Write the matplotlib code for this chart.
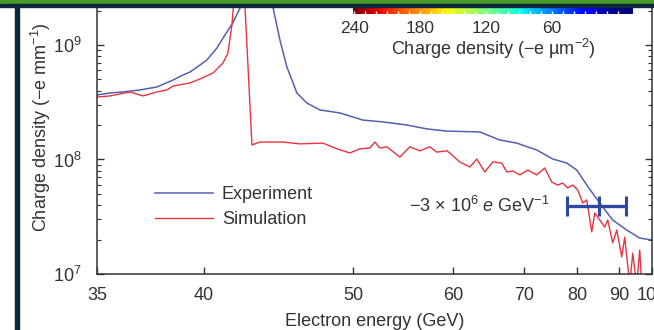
import numpy as np
import matplotlib
matplotlib.use("Agg")
import matplotlib.pyplot as plt
from matplotlib.patches import Rectangle
from matplotlib.ticker import NullLocator, FixedLocator

plt.rcParams['font.family'] = ['Liberation Sans', 'DejaVu Sans']
plt.rcParams['mathtext.fontset'] = 'custom'
plt.rcParams['mathtext.rm'] = 'Liberation Sans'
plt.rcParams['mathtext.it'] = 'Liberation Sans:italic'
plt.rcParams['font.size'] = 13

# Experiment (blue) - electron energy (GeV) vs charge density (-e/mm)
exp_energy = [35.0, 35.54, 36.1, 36.86, 37.64, 38.42, 38.92, 39.28, 39.8, 40.17,
              40.72, 41.06, 41.62, 42.04, 43.0, 44.08, 44.54, 45.01, 45.7, 46.41,
              47.36, 48.91, 50.83, 52.61, 54.94, 57.03, 59.29, 63.44, 66.26, 68.85,
              72.18, 75.08, 77.81, 79.89, 82.54, 85.12, 88.39, 92.21, 96.06, 100.0]
exp_charge = [3.66e8, 3.81e8, 3.89e8, 4.05e8, 4.30e8, 4.94e8, 5.47e8, 5.81e8, 6.68e8, 7.40e8,
              9.42e8, 1.15e9, 1.56e9, 2.10e9, 4.0e9, 2.15e9, 1.11e9, 6.43e8, 3.81e8, 3.11e8,
              2.71e8, 2.55e8, 2.21e8, 2.13e8, 2.00e8, 1.85e8, 1.77e8, 1.74e8, 1.48e8, 1.39e8,
              1.21e8, 1.01e8, 9.31e7, 8.09e7, 5.64e7, 4.17e7, 2.96e7, 2.42e7, 2.06e7, 1.98e7]

# Simulation (red)
sim_energy = [35.0, 35.54, 36.41, 36.99, 37.64, 38.12, 38.42, 39.28, 39.8, 40.5,
              41.06, 41.34, 41.57, 41.9, 42.33, 42.76, 43.25, 44.74, 45.91, 47.59,
              48.68, 49.73, 50.57, 51.44, 51.89, 52.34, 52.99, 54.24, 55.24, 56.28,
              57.36, 58.14, 59.29, 59.65, 60.86, 62.13, 63.04, 64.13, 65.24, 66.55,
              67.3, 68.22, 69.33, 70.64, 72.18, 73.59, 74.88, 76.03, 77.01, 78.01,
              79.04, 80.1, 81.19, 82.08, 83.22, 83.93, 85.12, 86.35, 87.1, 88.39,
              89.45, 90.81, 91.64, 93.07, 93.94, 95.13, 96.06, 96.67]
sim_charge = [3.51e8, 3.59e8, 3.89e8, 3.59e8, 3.89e8, 4.05e8, 4.38e8, 4.66e8, 5.05e8, 5.69e8,
              6.97e8, 8.51e8, 1.50e9, 6.0e9, 2.3e9, 1.34e8, 1.42e8, 1.42e8, 1.37e8, 1.39e8,
              1.24e8, 1.14e8, 1.24e8, 1.26e8, 1.42e8, 1.26e8, 1.29e8, 1.05e8, 1.29e8, 1.19e8,
              1.29e8, 1.16e8, 1.19e8, 1.14e8, 9.51e7, 8.59e7, 1.01e8, 7.78e7, 9.51e7, 9.31e7,
              7.78e7, 7.94e7, 7.33e7, 8.09e7, 7.33e7, 8.44e7, 6.35e7, 5.98e7, 6.23e7, 5.64e7,
              5.98e7, 5.42e7, 4.17e7, 4.43e7, 2.33e7, 3.41e7, 2.96e7, 2.57e7, 2.96e7, 1.87e7,
              2.42e7, 1.41e7, 2.10e7, 8e6, 1.52e7, 8e6, 1.62e7, 8e6]

# energy resolution bar
bar_center = 84.9
bar_low = 77.8
bar_high = 91.9
bar_level = 3.9e7

xticks = [35, 40, 50, 60, 70, 80, 90, 100]
cbar_ticks = [240, 180, 120, 60]


def inv_fwd(e):
    e = np.asarray(e, dtype=float)
    with np.errstate(divide='ignore', invalid='ignore'):
        return -1.0 / e


W, H = 654, 330
fig = plt.figure(figsize=(W / 100, H / 100), dpi=100)
ax = fig.add_axes([97 / W, 1 - 274 / H, (652 - 97) / W, (274 - 4) / H])

ax.set_xlim(35, 100)
ax.set_ylim(1e7, 10 ** 9.358)
# spectrometer axis: position ~ 1/E
ax.set_xscale('function', functions=(inv_fwd, inv_fwd))
ax.set_yscale('log')

ax.plot(exp_energy, exp_charge, color='#5262ad', lw=1.1, label='Experiment')
ax.plot(sim_energy, sim_charge, color='#e8343f', lw=1.0, label='Simulation')

ax.errorbar([bar_center], [bar_level], xerr=[[bar_center - bar_low], [bar_high - bar_center]],
            fmt='|', color='#3047a0', ms=15, mew=2.2, elinewidth=2.4, capsize=7.5, capthick=2.2)
ax.text(74.5, bar_level, '−3 × 10$^{6}$ $\\mathit{e}$ GeV$^{-1}$', ha='right', va='center',
        color='#333333')

ax.set_xlim(35, 100)
ax.set_ylim(1e7, 10 ** 9.358)
ax.xaxis.set_major_locator(FixedLocator(xticks))
ax.set_xticklabels([str(t) for t in xticks])
ax.xaxis.set_minor_locator(NullLocator())

for s in ax.spines.values():
    s.set_linewidth(1.1)
    s.set_color('#333333')
ax.spines['top'].set_visible(False)

ax.tick_params(axis='x', which='major', direction='in', length=5, width=1, pad=9, colors='#333333')
ax.tick_params(axis='y', which='major', direction='in', length=5, width=1, pad=11,
               right=True, colors='#333333')
ax.tick_params(axis='y', which='minor', direction='in', length=3, width=0.8, right=True,
               colors='#333333')

ax.set_xlabel('Electron energy (GeV)', color='#333333')
ax.xaxis.set_label_coords(0.5, -0.144)
ax.set_ylabel('Charge density (−e mm$^{-1}$)', color='#333333')
ax.yaxis.set_label_coords(-0.079, 0.543)

leg = ax.legend(loc='upper left', bbox_to_anchor=(155 / W, 1 - 186 / H),
                bbox_transform=fig.transFigure, frameon=False, borderpad=0,
                borderaxespad=0, handlelength=3.2, handletextpad=0.5, labelspacing=0.45)
for t in leg.get_texts():
    t.set_color('#333333')

# colour bar strip at the top
cax = fig.add_axes([353 / W, 1 - 14 / H, 280 / W, 10 / H])
grad = np.linspace(241, -14, 400).reshape(1, -1)
cax.imshow(grad, cmap='jet', vmin=0, vmax=240, aspect='auto', extent=[241, -14, 0, 1])
cax.set_xlim(241, -14)
cax.set_yticks([])
for s in cax.spines.values():
    s.set_visible(False)
cax.xaxis.set_major_locator(FixedLocator(cbar_ticks))
cax.xaxis.set_minor_locator(FixedLocator(list(range(0, 240, 10))))
cax.tick_params(axis='x', which='both', direction='in', length=2, width=1, colors='white',
                labelcolor='#333333', labelsize=12.5, pad=5)
cax.set_xlabel('Charge density (−e µm$^{-2}$)', color='#333333', labelpad=1)

# page border from the source figure
fig.add_artist(Rectangle((0, 1 - 4 / H), 1, 4 / H, transform=fig.transFigure,
                         color='#4b9a2c', zorder=20))
fig.add_artist(Rectangle((0, 1 - 7 / H), 1, 3 / H, transform=fig.transFigure,
                         color='#0e2739', zorder=20))
fig.add_artist(Rectangle((15 / W, 0), 3.5 / W, 1 - 4 / H, transform=fig.transFigure,
                         color='#0e2739', zorder=20))

fig.savefig('out.png', dpi=100)
